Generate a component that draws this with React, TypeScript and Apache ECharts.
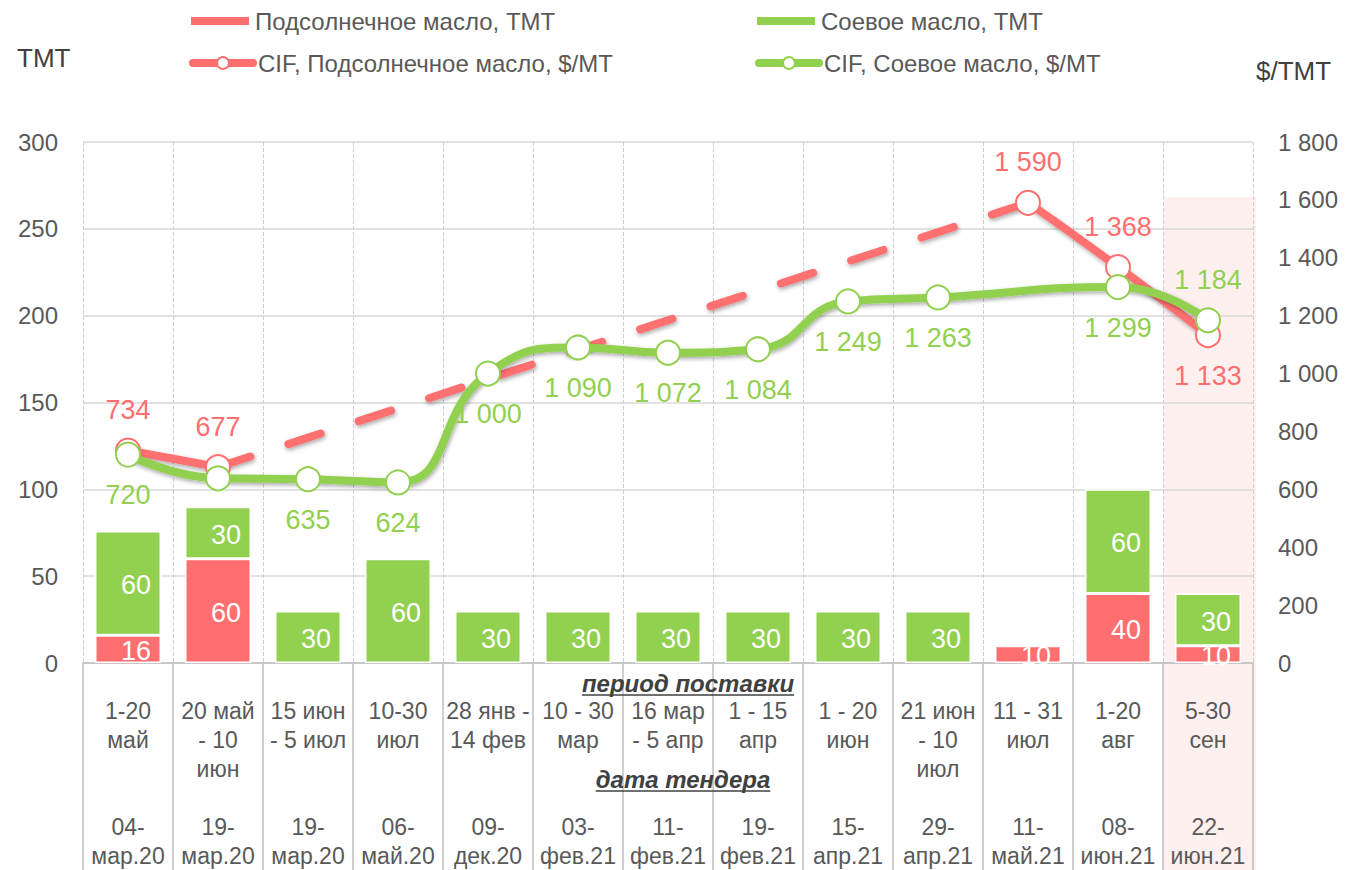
import React, { useEffect, useRef } from "react";
import * as echarts from "echarts";

const deliveryPeriods = [
  "1-20\nмай", "20 май\n- 10\nиюн", "15 июн\n- 5 июл", "10-30\nиюл", "28 янв -\n14 фев",
  "10 - 30\nмар", "16 мар\n- 5 апр", "1 - 15\nапр", "1 - 20\nиюн", "21 июн\n- 10\nиюл",
  "11 - 31\nиюл", "1-20\nавг", "5-30\nсен",
];
const tenderDates = [
  "04-\nмар.20", "19-\nмар.20", "19-\nмар.20", "06-\nмай.20", "09-\nдек.20", "03-\nфев.21",
  "11-\nфев.21", "19-\nфев.21", "15-\nапр.21", "29-\nапр.21", "11-\nмай.21", "08-\nиюн.21", "22-\nиюн.21",
];
const sunflowerVolume = [16, 60, null, null, null, null, null, null, null, null, 10, 40, 10];
const soyVolume = [60, 30, 30, 60, 30, 30, 30, 30, 30, 30, null, 60, 30];
const sunflowerPrice = [734, 677, null, null, null, null, null, null, null, null, 1590, 1368, 1133];
const sunflowerPriceGap = [null, 677, null, null, null, null, null, null, null, null, 1590, null, null];
const soyPrice = [720, 638, 635, 624, 1000, 1090, 1072, 1084, 1249, 1263, null, 1299, 1184];
const soyLabelHidden = [false, true, false, false, false, false, false, false, false, false, true, false, false];
const soyLabelTop = [false, false, false, false, false, false, false, false, false, false, false, false, true];
const sunLabelBottom = [false, false, false, false, false, false, false, false, false, false, false, false, true];

const NAME_SUN = "Подсолнечное масло, ТМТ";
const NAME_SOY = "Соевое масло, ТМТ";
const NAME_CIF_SUN = "CIF, Подсолнечное масло, $/МТ";
const NAME_CIF_SOY = "CIF, Соевое масло, $/МТ";

const RED = "#FF6F6F";
const GREEN = "#92D050";
const FONT = "Liberation Sans, Arial, sans-serif";
const TEXT = "#595959";

const fmt = (v: number) => String(v).replace(/\B(?=(\d{3})+(?!\d))/g, " ");

const categories = deliveryPeriods.map((d, i) => {
  const lines = d.split("\n");
  while (lines.length < 4) lines.push(" ");
  return lines.join("\n") + "\n" + tenderDates[i];
});

function measure(text: string, font: string) {
  const c = document.createElement("canvas");
  const ctx = c.getContext("2d")!;
  ctx.font = font;
  return ctx.measureText(text).width;
}

export default function App() {
  const ref = useRef<HTMLDivElement>(null);
  useEffect(() => {
    document.body.style.margin = "0";
    const chart = echarts.init(ref.current!, null, { renderer: "svg" });
    const lineShadow = {
      shadowColor: "rgba(0,0,0,0.35)",
      shadowBlur: 4,
      shadowOffsetX: 1,
      shadowOffsetY: 2,
    };
    const legendBase = {
      orient: "vertical", itemWidth: 60,
      textStyle: { fontSize: 24, color: TEXT, fontFamily: FONT, lineHeight: 30 },
      lineStyle: { width: 8 },
    };
    const option: any = {
      animation: false,
      textStyle: { fontFamily: FONT },
      grid: { left: 83, right: 95, top: 142, bottom: 207 },
      legend: [
        { ...legendBase, left: 184, top: 1, itemHeight: 10, data: [{ name: NAME_SUN, icon: "rect" }] },
        { ...legendBase, left: 184, top: 43, itemHeight: 15, data: [{ name: NAME_CIF_SUN }] },
        { ...legendBase, left: 750, top: 1, itemHeight: 10, data: [{ name: NAME_SOY, icon: "rect" }] },
        { ...legendBase, left: 750, top: 43, itemHeight: 15, data: [{ name: NAME_CIF_SOY }] },
      ],
      xAxis: {
        type: "category",
        data: categories,
        boundaryGap: true,
        axisLine: { lineStyle: { color: "#BFBFBF", width: 1.5 } },
        axisTick: { show: true, interval: 0, length: 210, lineStyle: { color: "#BFBFBF", width: 1.5 } },
        axisLabel: {
          interval: 0, fontSize: 23, color: TEXT, lineHeight: 29, margin: 33,
          fontFamily: FONT, verticalAlign: "top",
        },
        splitLine: { show: true, interval: 0, lineStyle: { type: "dashed", color: "#D0D0D0", width: 1 } },
      },
      yAxis: [
        {
          type: "value", min: 0, max: 300, interval: 50,
          axisLabel: { fontSize: 24, color: TEXT, margin: 25, fontFamily: FONT },
          axisLine: { show: false }, axisTick: { show: false },
          splitLine: { lineStyle: { color: "#D9D9D9", width: 1.5 } },
        },
        {
          type: "value", min: 0, max: 1800, interval: 200,
          axisLabel: { fontSize: 24, color: TEXT, margin: 25, fontFamily: FONT, formatter: (v: number) => fmt(v) },
          axisLine: { show: false }, axisTick: { show: false },
          splitLine: { show: false },
        },
      ],
      series: [
        {
          name: NAME_SUN, type: "bar", stack: "vol", barWidth: 66, z: 2,
          data: sunflowerVolume,
          itemStyle: { color: RED, borderColor: "#fff", borderWidth: 1.5 },
          label: { show: true, position: "inside", offset: [8, 2], color: "#fff", fontSize: 27, fontFamily: FONT },
        },
        {
          name: NAME_SOY, type: "bar", stack: "vol", barWidth: 66, z: 2,
          data: soyVolume,
          itemStyle: { color: GREEN, borderColor: "#fff", borderWidth: 1.5 },
          label: { show: true, position: "inside", offset: [8, 2], color: "#fff", fontSize: 27, fontFamily: FONT },
        },
        {
          name: "_gap", type: "line", yAxisIndex: 1, z: 3, connectNulls: true, symbol: "none",
          data: sunflowerPriceGap, silent: true,
          lineStyle: { color: RED, width: 8, type: [34, 40], cap: "round", ...lineShadow },
        },
        {
          name: NAME_CIF_SUN, type: "line", yAxisIndex: 1, z: 4, smooth: 0.6, connectNulls: false,
          symbol: "circle", symbolSize: 24,
          data: sunflowerPrice.map((v, i) => ({
            value: v,
            label: sunLabelBottom[i] ? { position: "bottom" } : undefined,
          })),
          lineStyle: { color: RED, width: 8, cap: "round", ...lineShadow },
          itemStyle: { color: "#fff", borderColor: RED, borderWidth: 2 },
          label: {
            show: true, position: "top", distance: 14, color: RED, fontSize: 27, fontFamily: FONT,
            formatter: (p: any) => (p.value == null ? "" : fmt(p.value)),
          },
        },
        {
          name: NAME_CIF_SOY, type: "line", yAxisIndex: 1, z: 5, smooth: 0.5, connectNulls: true,
          symbol: "circle", symbolSize: 24,
          data: soyPrice.map((v, i) => ({
            value: v,
            label: soyLabelHidden[i] ? { show: false } : soyLabelTop[i] ? { position: "top" } : undefined,
          })),
          lineStyle: { color: GREEN, width: 8, cap: "round", ...lineShadow },
          itemStyle: { color: "#fff", borderColor: GREEN, borderWidth: 2 },
          label: {
            show: true, position: "bottom", distance: 14, color: GREEN, fontSize: 27, fontFamily: FONT,
            formatter: (p: any) => (p.value == null ? "" : fmt(p.value)),
          },
        },
      ],
    };
    chart.setOption(option);

    // decorations computed from the axes
    const last = categories.length - 1;
    const cx = chart.convertToPixel({ xAxisIndex: 0 }, categories[last]) as number;
    const cx2 = chart.convertToPixel({ xAxisIndex: 0 }, categories[last - 1]) as number;
    const band = cx - cx2;
    const topY = chart.convertToPixel({ yAxisIndex: 1 }, 1610) as number;
    const hFont = "italic bold 24px Liberation Sans";
    const w1 = measure("период поставки", hFont);
    const w2 = measure("дата тендера", hFont);
    const t1x = 688, t1y = 683, t2x = 683, t2y = 779;
    chart.setOption({
      graphic: [
        {
          type: "rect", z: -10, silent: true,
          shape: { x: cx - band / 2, y: topY, width: band + 3, height: 870 - topY },
          style: { fill: "#FFF0F0" },
        },
        { type: "text", x: 17, y: 58, style: { text: "ТМТ", fontSize: 26, fill: "#404040", fontFamily: FONT, verticalAlign: "middle" } },
        { type: "text", x: 1256, y: 71, style: { text: "$/ТМТ", fontSize: 26, fill: "#404040", fontFamily: FONT, verticalAlign: "middle" } },
        {
          type: "text", x: t1x, y: t1y, z: 10,
          style: { text: "период поставки", fontSize: 24, fontStyle: "italic", fontWeight: "bold", fill: "#404040", fontFamily: FONT, align: "center", verticalAlign: "middle" },
        },
        { type: "line", z: 10, shape: { x1: t1x - w1 / 2, y1: t1y + 12, x2: t1x + w1 / 2, y2: t1y + 12 }, style: { stroke: "#404040", lineWidth: 1.5 } },
        {
          type: "text", x: t2x, y: t2y, z: 10,
          style: { text: "дата тендера", fontSize: 24, fontStyle: "italic", fontWeight: "bold", fill: "#404040", fontFamily: FONT, align: "center", verticalAlign: "middle" },
        },
        { type: "line", z: 10, shape: { x1: t2x - w2 / 2, y1: t2y + 12, x2: t2x + w2 / 2, y2: t2y + 12 }, style: { stroke: "#404040", lineWidth: 1.5 } },
      ],
    });
    return () => chart.dispose();
  }, []);
  return <div ref={ref} style={{ width: 1348, height: 870 }} />;
}
